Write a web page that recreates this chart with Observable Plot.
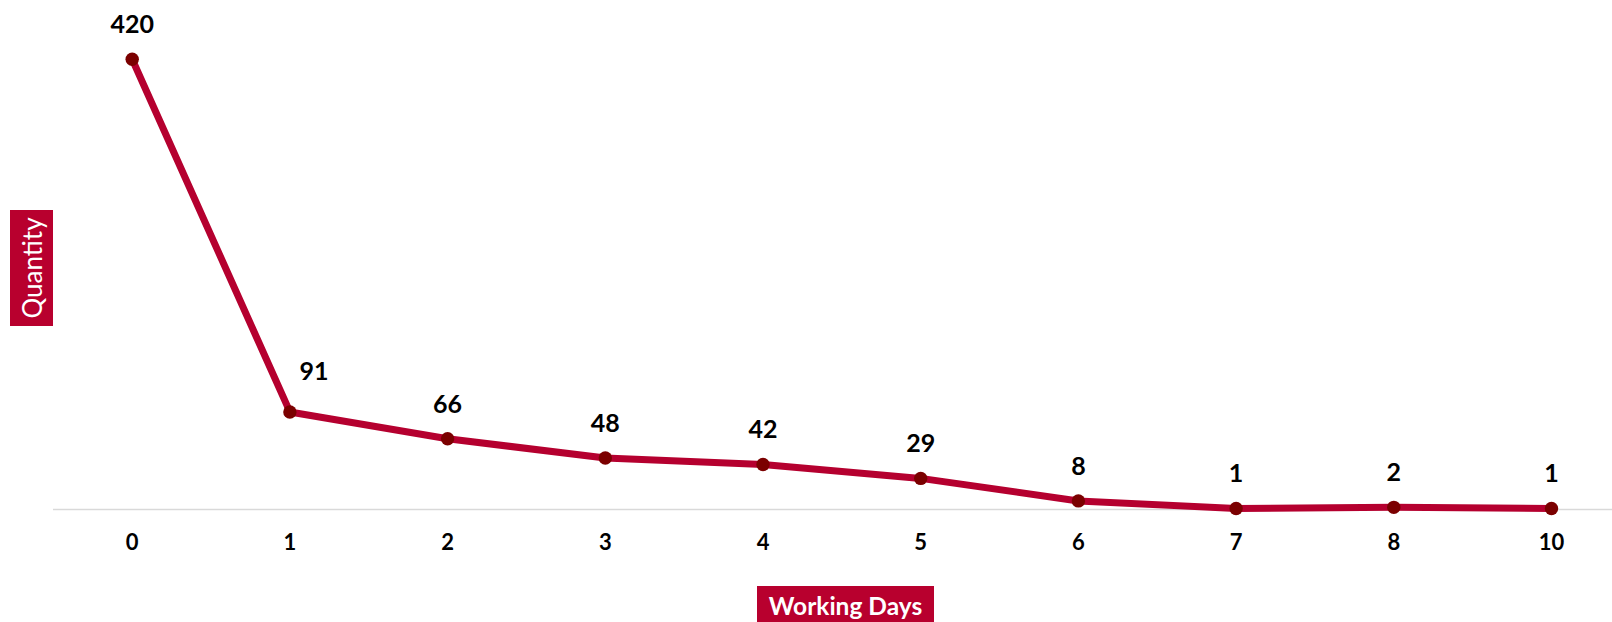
<!DOCTYPE html>
<html>
<head>
<meta charset="utf-8">
<script src="https://cdn.jsdelivr.net/npm/d3@7"></script>
<script src="https://cdn.jsdelivr.net/npm/@observablehq/plot@0.6"></script>
<style>
  html, body { margin: 0; padding: 0; background: #fff; }
  #chart { position: relative; width: 1612px; height: 622px; overflow: hidden; font-family: Lato, "Open Sans", sans-serif; }
  #chart svg { position: absolute; left: 0; top: 0; }
  .axis-tag {
    position: absolute; background: #B8002E; color: #fff;
    font-family: Lato, sans-serif; line-height: 1; white-space: nowrap;
    display: flex; align-items: center; justify-content: center;
  }
  #ylab { left: 10px; top: 210px; width: 43px; height: 116px; }
  #ylab span { transform: rotate(-90deg); font-size: 26px; font-weight: 400; display: block; }
  #xlab { left: 757px; top: 586px; width: 177px; height: 40px; font-size: 24.5px; font-weight: 700; align-items: flex-start; padding-top: 0; }
  #xlab span { display: block; margin-top: 8px; }
</style>
</head>
<body>
<div id="chart">
  <div class="axis-tag" id="ylab"><span>Quantity</span></div>
  <div class="axis-tag" id="xlab"><span>Working Days</span></div>
</div>
<script>
// Working days until completion and how many items fall in each
const days = ["0", "1", "2", "3", "4", "5", "6", "7", "8", "10"];
const quantities = [420, 91, 66, 48, 42, 29, 8, 1, 2, 1];

const rows = days.map((d, i) => ({day: d, qty: quantities[i]}));

const lineColor = "#B5002F";
const dotColor = "#7B0000";

const plot = Plot.plot({
  width: 1612,
  height: 622,
  marginLeft: 53,
  marginRight: 0,
  marginTop: 58.7,
  marginBottom: 113,
  style: {fontFamily: "Lato, sans-serif", background: "transparent", overflow: "visible"},
  x: {type: "point", domain: days, range: [131.7, 1551], padding: 0, round: false},
  y: {domain: [0, 420], axis: null},
  marks: [
    Plot.ruleY([0], {stroke: "#d9d9d9", strokeWidth: 1.5}),
    Plot.axisX({
      tickSize: 0,
      tickPadding: 25,
      fontSize: 22,
      fontWeight: "bold",
      fill: "#000",
      label: null
    }),
    Plot.line(rows, {x: "day", y: "qty", stroke: lineColor, strokeWidth: 7, strokeLinejoin: "round"}),
    Plot.dot(rows, {x: "day", y: "qty", r: 6.7, fill: dotColor, stroke: "none"}),
    // value labels above each point; the one at day 1 is nudged right off the steep segment
    Plot.text(rows.filter(r => r.day !== "1"), {
      x: "day", y: "qty", text: d => String(d.qty),
      dy: -34, fontSize: 25, fontWeight: "bold", fill: "#000"
    }),
    Plot.text(rows.filter(r => r.day === "1"), {
      x: "day", y: "qty", text: d => String(d.qty),
      dx: 24, dy: -40, fontSize: 25, fontWeight: "bold", fill: "#000"
    })
  ]
});

document.getElementById("chart").prepend(plot);
</script>
</body>
</html>
